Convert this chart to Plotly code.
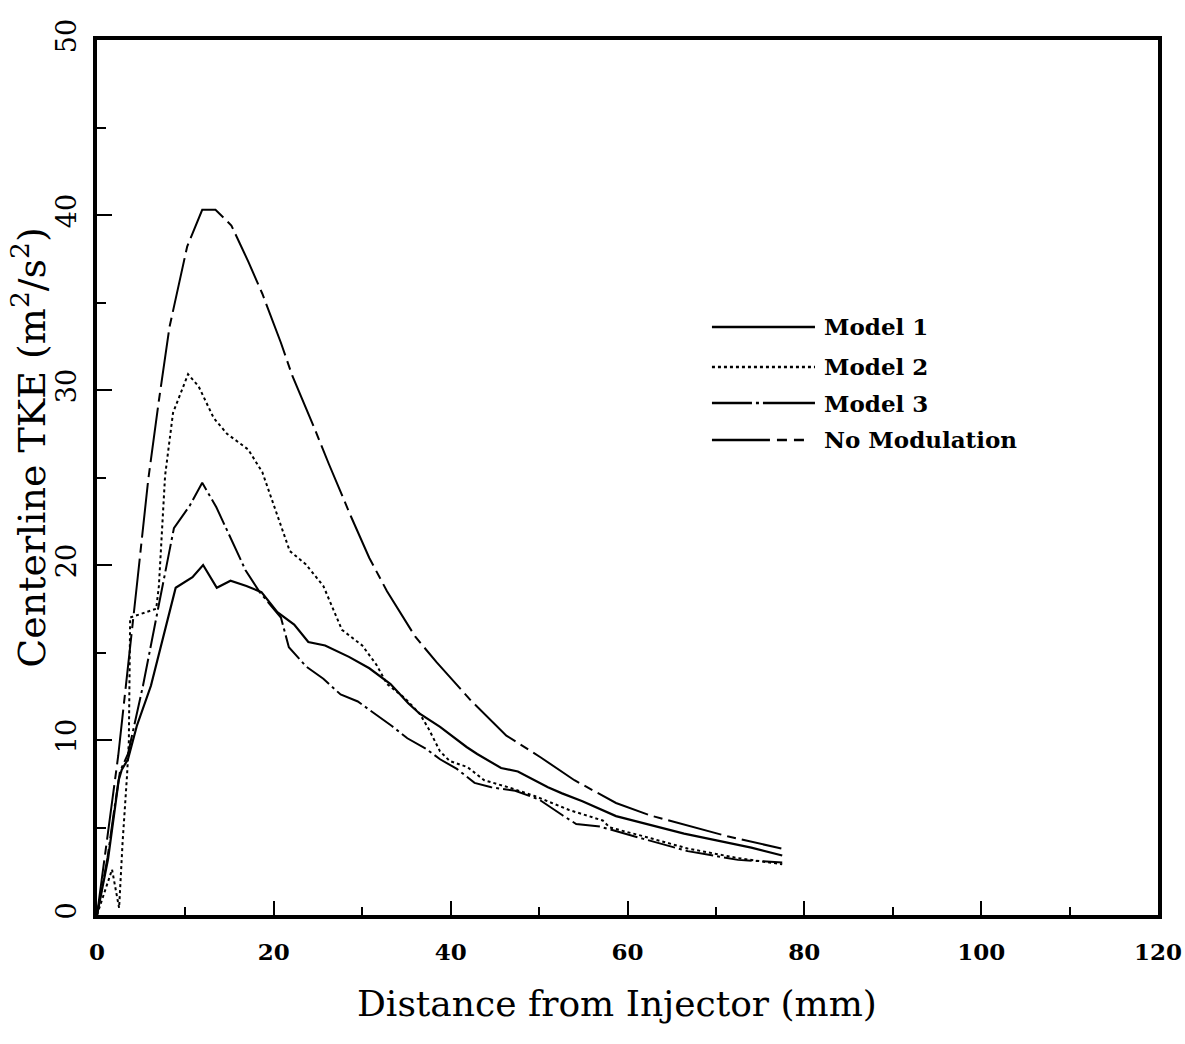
import plotly.graph_objects as go

# ---- data ----
model1_x = [0, 1.25, 2.0, 2.45, 2.8, 3.5, 4.5, 6.1, 8.9, 10.8, 12.0, 13.55, 15.1, 16.9, 18.6, 20.4, 22.3, 23.9, 25.8, 28.5,
            30.8, 33.2, 35.2, 36.5, 38.8, 41.8, 43.0, 45.7, 47.6, 51.0, 52.6, 54.9, 58.7, 62.6, 66.4, 70.2, 74.0, 77.5]
model1_y = [0, 3.2, 6.0, 7.7, 8.3, 8.9, 10.8, 13.1, 18.7, 19.3, 20.0, 18.7, 19.1, 18.8, 18.45, 17.3, 16.6, 15.6, 15.4, 14.75,
            14.1, 13.2, 12.1, 11.5, 10.75, 9.6, 9.2, 8.4, 8.2, 7.3, 6.95, 6.5, 5.65, 5.15, 4.65, 4.25, 3.85, 3.4]

model2_x = [0, 1.7, 2.5, 2.9, 3.4, 3.6, 3.75, 5.0, 6.7, 7.0, 7.7, 8.6, 10.3, 11.5, 13.2, 14.7, 17.1, 18.7, 20.4, 21.8,
            23.6, 25.6, 27.7, 30.0, 31.6, 32.8, 34.8, 36.5, 37.5, 38.8, 39.9, 41.9, 43.8, 46.5, 49.5, 53.4, 57.2, 58.0,
            61.8, 66.8, 72.5, 77.5]
model2_y = [0, 2.6, 0.4, 4.2, 8.0, 9.9, 17.0, 17.2, 17.5, 18.8, 25.1, 28.7, 30.9, 30.2, 28.4, 27.5, 26.6, 25.3, 22.8, 20.8,
            20.05, 18.8, 16.3, 15.4, 14.3, 13.2, 12.4, 11.5, 10.65, 9.35, 8.8, 8.45, 7.7, 7.3, 6.8, 6.0, 5.4, 5.0,
            4.5, 3.8, 3.25, 2.9]

model3_x = [0, 1.2, 2.0, 2.6, 3.5, 4.3, 5.2, 7.1, 8.7, 10.5, 11.9, 13.5, 15.2, 16.8, 18.4, 20.8, 21.7, 23.65, 25.6, 27.55,
            29.5, 31.4, 33.35, 35.1, 37.2, 38.8, 40.7, 42.7, 44.6, 47.3, 50.0, 52.65, 54.2, 56.9, 58.0, 61.8, 66.8, 72.5, 77.5]
model3_y = [0, 3.3, 6.2, 8.2, 9.2, 11.0, 13.1, 18.0, 22.1, 23.4, 24.7, 23.3, 21.4, 19.7, 18.45, 17.0, 15.3, 14.2, 13.5, 12.6,
            12.2, 11.5, 10.8, 10.1, 9.5, 8.9, 8.35, 7.55, 7.3, 7.1, 6.6, 5.7, 5.2, 5.05, 4.9, 4.35, 3.65, 3.15, 3.0]

nomod_x = [0, 2.4, 4.5, 5.8, 7.0, 8.2, 10.2, 11.9, 13.4, 15.2, 17.1, 18.7, 20.8, 22.1, 24.6, 26.2, 28.7, 30.8, 32.8, 36.0,
           38.4, 42.3, 46.3, 50.2, 54.0, 58.7, 62.5, 68.3, 71.3, 77.4]
nomod_y = [0, 9.1, 18.8, 24.9, 29.4, 33.6, 38.2, 40.3, 40.3, 39.4, 37.35, 35.5, 32.7, 30.8, 27.8, 25.8, 22.8, 20.4, 18.5, 15.9,
           14.45, 12.25, 10.25, 9.0, 7.7, 6.4, 5.7, 4.9, 4.5, 3.8]

series_names = ["Model 1", "Model 2", "Model 3", "No Modulation"]
x_tick_vals = [0, 20, 40, 60, 80, 100, 120]
y_tick_vals = [0, 10, 20, 30, 40, 50]
x_title = "Distance from Injector (mm)"
y_title = "Centerline TKE (m<sup>2</sup>/s<sup>2</sup>)"

# ---- styling ----
SERIF = "DejaVu Serif"
styles = {
    "Model 1": dict(dash="solid", width=2.2),
    "Model 2": dict(dash="3px,3px", width=2.0),
    "Model 3": dict(dash="28px,4px,3px,4px", width=2.0),
    "No Modulation": dict(dash="55px,6px,9px,6px", width=2.0),
}
legend_dash = {
    "Model 1": "solid",
    "Model 2": "3px,3px",
    "Model 3": "40px,4px,3px,4px,60px",
    "No Modulation": "58px,7px,10px,7px,10px,80px",
}
data = {
    "Model 1": (model1_x, model1_y),
    "Model 2": (model2_x, model2_y),
    "Model 3": (model3_x, model3_y),
    "No Modulation": (nomod_x, nomod_y),
}

fig = go.Figure()
for name in series_names:
    xs, ys = data[name]
    fig.add_trace(go.Scatter(x=xs, y=ys, mode="lines", name=name,
                             line=dict(color="black", **styles[name]),
                             showlegend=False))

# ---- legend drawn like the original (long line sample + text) ----
leg_x0, leg_x1, txt_x = 0.5796, 0.6767, 0.6833
leg_y = [0.672, 0.6263, 0.5851, 0.5429]
shapes = []
annotations = []
for name, yy in zip(series_names, leg_y):
    shapes.append(dict(type="line", xref="paper", yref="paper", x0=leg_x0, x1=leg_x1, y0=yy, y1=yy,
                       line=dict(color="black", dash=legend_dash[name], width=2.4)))
    annotations.append(dict(xref="paper", yref="paper", x=txt_x, y=yy, xanchor="left", yanchor="middle",
                            text=name, showarrow=False,
                            font=dict(family=SERIF, size=23, color="black", weight="bold")))

# axis titles as annotations (positioned like the reference)
annotations.append(dict(xref="paper", yref="paper", x=0.49, y=-0.101, xanchor="center", yanchor="middle",
                        text=x_title, showarrow=False,
                        font=dict(family=SERIF, size=36, color="black")))
annotations.append(dict(xref="paper", yref="paper", x=-0.064, y=0.534, xanchor="center", yanchor="middle",
                        text=y_title, showarrow=False, textangle=-90,
                        font=dict(family=SERIF, size=38, color="black")))

fig.update_layout(
    width=1185, height=1044,
    margin=dict(l=97, r=27, t=40, b=129, autoexpand=False),
    paper_bgcolor="white", plot_bgcolor="white",
    shapes=shapes, annotations=annotations,
    font=dict(family=SERIF, color="black"),
)

fig.update_xaxes(
    range=[0, 120], tickvals=x_tick_vals,
    ticks="inside", ticklen=14, tickwidth=2, tickcolor="black",
    minor=dict(dtick=10, ticks="inside", ticklen=8, tickwidth=2, tickcolor="black"),
    showline=True, linewidth=3.5, linecolor="black", mirror=True,
    showgrid=False, zeroline=False,
    tickfont=dict(family=SERIF, size=23, color="black", weight="bold"), ticklabelstandoff=14,
    automargin=False,
)
fig.update_yaxes(
    range=[0, 50], tickvals=y_tick_vals,
    ticks="inside", ticklen=15, tickwidth=2, tickcolor="black",
    minor=dict(dtick=5, ticks="inside", ticklen=9, tickwidth=2, tickcolor="black"),
    showline=True, linewidth=3.5, linecolor="black", mirror=True,
    showgrid=False, zeroline=False,
    tickangle=-90,
    tickfont=dict(family=SERIF, size=27, color="black"), ticklabelstandoff=6,
    automargin=False,
)

fig.write_html("out.html")
